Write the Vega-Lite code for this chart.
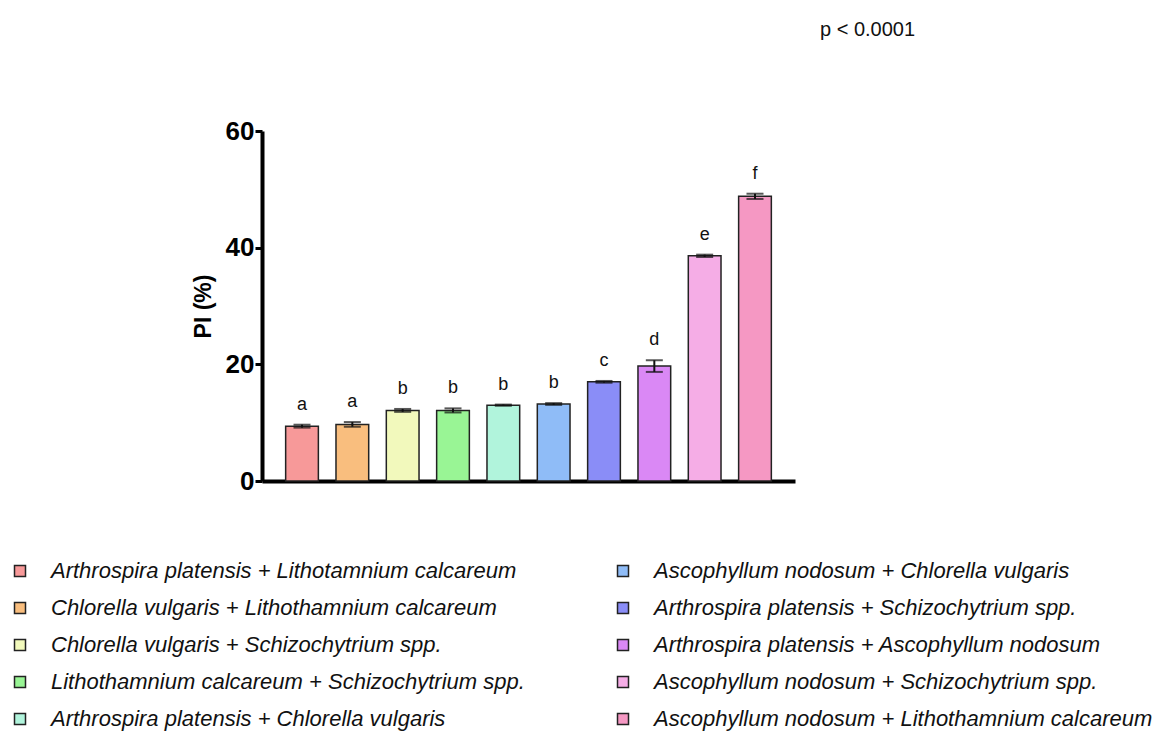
{
  "$schema": "https://vega.github.io/schema/vega-lite/v6.json",
  "width": 533,
  "height": 350,
  "autosize": {"type": "none"},
  "padding": {"left": 262, "top": 131, "right": 366, "bottom": 274},
  "background": "white",
  "title": {"text": "p < 0.0001", "anchor": "start", "frame": "group", "dx": 558, "offset": 78, "fontSize": 20, "fontWeight": "normal", "font": "Liberation Sans", "color": "#111"},
  "config": {"view": {"stroke": null}},
  "data": {"values": [
    {"name": "Arthrospira platensis + Lithotamnium calcareum", "value": 9.4, "err": 0.25, "hi": 9.65, "letter": "a"},
    {"name": "Chlorella vulgaris + Lithothamnium calcareum", "value": 9.7, "err": 0.4, "hi": 10.1, "letter": "a"},
    {"name": "Chlorella vulgaris + Schizochytrium spp.", "value": 12.1, "err": 0.25, "hi": 12.35, "letter": "b"},
    {"name": "Lithothamnium calcareum + Schizochytrium spp.", "value": 12.1, "err": 0.35, "hi": 12.45, "letter": "b"},
    {"name": "Arthrospira platensis + Chlorella vulgaris", "value": 13.0, "err": 0.1, "hi": 13.1, "letter": "b"},
    {"name": "Ascophyllum nodosum + Chlorella vulgaris", "value": 13.2, "err": 0.15, "hi": 13.35, "letter": "b"},
    {"name": "Arthrospira platensis + Schizochytrium spp.", "value": 17.0, "err": 0.15, "hi": 17.15, "letter": "c"},
    {"name": "Arthrospira platensis + Ascophyllum nodosum", "value": 19.7, "err": 1.0, "hi": 20.7, "letter": "d"},
    {"name": "Ascophyllum nodosum + Schizochytrium spp.", "value": 38.6, "err": 0.2, "hi": 38.8, "letter": "e"},
    {"name": "Ascophyllum nodosum + Lithothamnium calcareum", "value": 48.8, "err": 0.45, "hi": 49.25, "letter": "f"}
  ]},
  "encoding": {
    "x": {"field": "name", "type": "nominal", "sort": null,
      "scale": {"paddingInner": 0.35, "paddingOuter": 0.47},
      "axis": {"title": null, "labels": false, "ticks": false, "domainColor": "black", "domainWidth": 4}}
  },
  "layer": [
    {
      "mark": {"type": "bar", "stroke": "#222", "strokeWidth": 1.5},
      "encoding": {
        "y": {"field": "value", "type": "quantitative", "scale": {"domain": [0, 60]},
          "axis": {"title": "PI (%)", "titleFont": "Liberation Sans", "titleFontSize": 23, "titleFontWeight": "bold", "titleColor": "black", "titlePadding": 10,
            "values": [0, 20, 40, 60], "labelFont": "Liberation Sans", "labelFontSize": 26, "labelFontWeight": "bold", "labelColor": "black", "labelPadding": 1,
            "domainColor": "black", "domainWidth": 4, "tickColor": "black", "tickWidth": 3, "tickSize": 7, "grid": false}},
        "color": {"field": "name", "type": "nominal",
          "scale": {
            "domain": ["Arthrospira platensis + Lithotamnium calcareum", "Chlorella vulgaris + Lithothamnium calcareum",
                       "Chlorella vulgaris + Schizochytrium spp.", "Lithothamnium calcareum + Schizochytrium spp.",
                       "Arthrospira platensis + Chlorella vulgaris", "Ascophyllum nodosum + Chlorella vulgaris",
                       "Arthrospira platensis + Schizochytrium spp.", "Arthrospira platensis + Ascophyllum nodosum",
                       "Ascophyllum nodosum + Schizochytrium spp.", "Ascophyllum nodosum + Lithothamnium calcareum"],
            "range": ["#F79999", "#F9BE7E", "#F2F9BC", "#99F595", "#B1F4DC", "#8FBCF7", "#8A8DF7", "#DA88F5", "#F5ADE6", "#F598C3"]
          },
          "legend": {"orient": "none", "legendX": -253, "legendY": 429, "columns": 2, "title": null,
            "symbolType": "square", "symbolSize": 121, "symbolStrokeColor": "#222", "symbolStrokeWidth": 1.5,
            "labelFontSize": 22, "labelFont": "Liberation Sans", "labelFontStyle": "italic", "labelColor": "#111",
            "labelOffset": 20, "rowPadding": 15, "columnPadding": 87, "labelLimit": 0, "symbolOpacity": 1}}
      }
    },
    {
      "mark": {"type": "errorbar", "ticks": {"size": 17, "thickness": 2, "color": "#111"}, "rule": {"strokeWidth": 2, "color": "#111"}, "color": "#111"},
      "encoding": {
        "y": {"field": "value", "type": "quantitative", "title": "PI (%)"},
        "yError": {"field": "err"}
      }
    },
    {
      "mark": {"type": "text", "baseline": "alphabetic", "dy": -15, "fontSize": 18, "font": "Liberation Sans", "color": "#111"},
      "encoding": {
        "y": {"field": "hi", "type": "quantitative", "title": "PI (%)"},
        "text": {"field": "letter"}
      }
    }
  ]
}
